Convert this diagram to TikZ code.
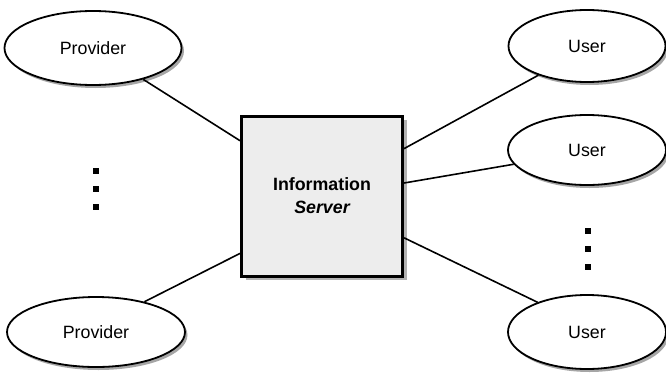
\documentclass[tikz,border=0pt]{standalone}
\usepackage{fontspec}
\setmainfont{Liberation Sans}
\usetikzlibrary{shapes.geometric,shadows}
\begin{document}
\begin{tikzpicture}[x=1pt,y=-1pt,
  ell/.style={ellipse,draw=black,line width=1.8pt,fill=white,inner sep=0pt,
    font=\fontsize{17.8}{20}\selectfont,
    drop shadow={shadow xshift=2.5pt,shadow yshift=-3pt,fill=gray!70,opacity=1}},
  srv/.style={rectangle,draw=black,line width=3pt,fill=gray!14,inner sep=0pt,
    minimum width=161pt,minimum height=160pt,align=center,
    font=\fontsize{17.8}{23}\selectfont\bfseries,
    drop shadow={shadow xshift=4pt,shadow yshift=-4pt,fill=gray!60,opacity=1}},
  conn/.style={line width=1.6pt,black},
  dot/.style={rectangle,fill=black,minimum size=5.5pt,inner sep=0pt}]
\useasboundingbox (0,0) rectangle (666,372);
\node[ell,minimum width=177pt,minimum height=74pt] (p1) at (93,48) {Provider};
\node[ell,minimum width=178pt,minimum height=70pt] (p2) at (96,332) {Provider};
\node[ell,minimum width=157pt,minimum height=72pt] (u1) at (587,46) {User};
\node[ell,minimum width=158pt,minimum height=70pt] (u2) at (587,150) {User};
\node[ell,minimum width=158pt,minimum height=74pt] (u3) at (587,332) {User};
\node[srv] (s) at (322,196) {Information\\\itshape Server};
\draw[conn] (p1.-32) -- (s.146);
\draw[conn] (p2.32) -- (s.215.7);
\draw[conn] (u1.211) -- (s.30);
\draw[conn] (u2.191) -- (s.9.6);
\draw[conn] (u3.149) -- (s.-27);
\node[dot] (l1) at (96,171) {};
\node[dot] (l2) at (96,189) {};
\node[dot] (l3) at (96,207) {};
\node[dot] (r1) at (588,231) {};
\node[dot] (r2) at (588,249) {};
\node[dot] (r3) at (588,267) {};
\end{tikzpicture}
\end{document}
